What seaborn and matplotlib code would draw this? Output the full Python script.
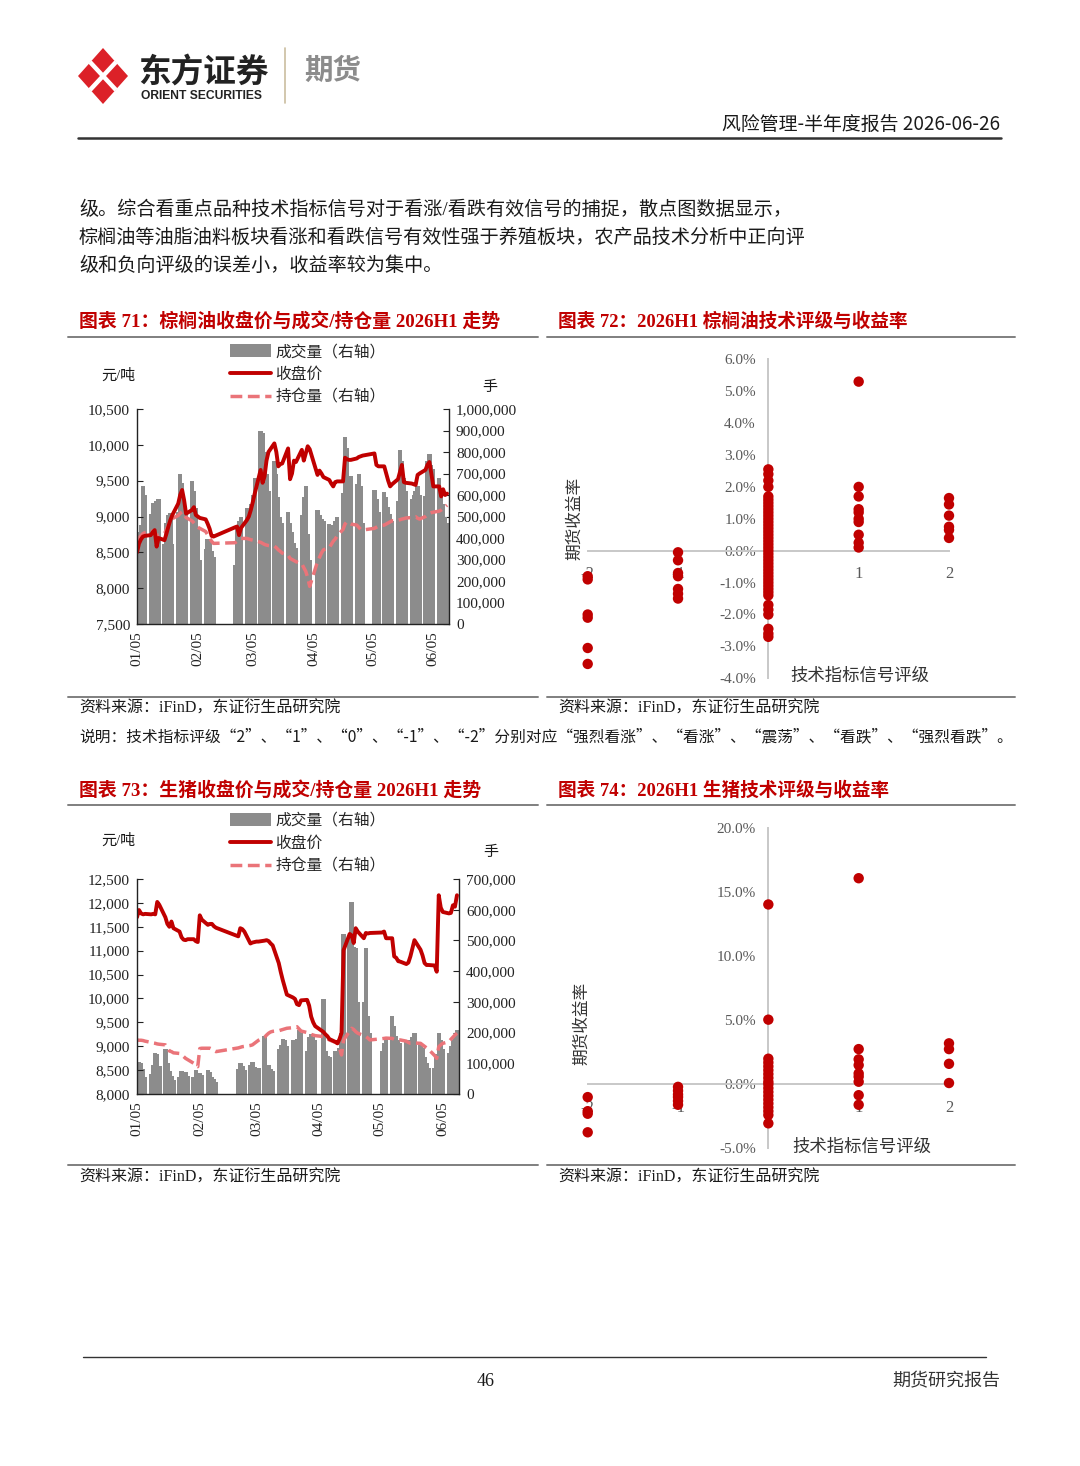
import numpy as np
import pandas as pd
import matplotlib
matplotlib.use('Agg')
import matplotlib.pyplot as plt
import matplotlib.dates as mdates
from matplotlib.ticker import FuncFormatter
from matplotlib.patches import Patch, Polygon
from matplotlib.lines import Line2D
import seaborn as sns

W, H = 1080, 1466
RED = '#c00000'
PINK = '#ea7479'
BAR = '#8c8c8c'
SERIF = ['Liberation Serif', 'Noto Sans CJK SC']
CJK = ['Noto Sans CJK SC', 'DejaVu Sans']

# ── Trading calendar (SHFE/DCE closed on these weekdays) ──────────────────────
HOLIDAYS = ['2026-02-16', '2026-02-17', '2026-02-18', '2026-02-19', '2026-02-20',
            '2026-02-23', '2026-04-06', '2026-05-01', '2026-05-04', '2026-05-05']
DAYS = pd.bdate_range('2026-01-05', '2026-06-12')
DAYS = DAYS[~DAYS.isin(pd.to_datetime(HOLIDAYS))]
TICK_DATES = pd.to_datetime(['2026-01-05', '2026-02-05', '2026-03-05',
                             '2026-04-05', '2026-05-05', '2026-06-05'])

# ── Palm oil (图表 71) ─────────────────────────────────────────────────────────
PALM_CLOSE = [8500, 8620, 8680, 8720, 8730,  8740, 8780, 8810, 8580, 8700,
              8670, 8760, 8860, 8950, 9020,  9180, 9300, 9370, 9230, 9040,
              9090, 9130, 9020, 9000, 8980,  8960, 8900, 8830, 8730, 8720,
              8850, 8860, 8740, 8840,        8950, 9000, 9090, 9200, 9320,
              9650, 9470, 9560, 9780, 9900,  10020, 9900, 9700, 9730, 9740,
              9950, 9520, 9600, 9780, 9760,  9930, 9780, 9880, 9980, 9940,
              9580, 9640, 9600, 9550,        9510, 9460, 9420, 9480, 9490,
              9490, 9820, 9800, 9790, 9790,  9810, 9830, 9840, 9850,
              9880, 9720, 9700,              9700, 9600, 9500, 9420, 9450,
              9520, 9620, 9720, 9480, 9470,  9460, 9450, 9440, 9580, 9600,
              9650, 9720, 9760, 9600, 9420,  9420, 9280, 9380, 9300, 9320]
# volume / open interest in thousand lots
PALM_VOL = [400, 430, 460, 640, 600,  510, 565, 545, 570, 580,
            370, 470, 505, 515, 370,  520, 700, 655, 560, 515,
            665, 620, 540, 450, 300,  350, 395, 380, 340, 310,
            275, 440, 480, 500,       540, 520, 560, 600, 680,
            900, 890, 800, 700, 620,  760, 700, 590, 500, 470,
            520, 470, 430, 375, 355,  505, 590, 640, 420, 300,
            530, 505, 490, 480,       465, 462, 448, 480, 500,
            610, 870, 820, 690, 690,  650, 700, 640, 470,
            625, 580, 520,            615, 590, 545, 510, 480,
            570, 810, 760, 680, 620,  580, 600, 620, 640, 600,
            595, 760, 790, 740, 720,  680, 620, 560, 500, 470]
PALM_OI = [390, 400, 410, 420, 425,  430, 432, 425, 405, 415,
           420, 440, 460, 480, 490,  505, 515, 522, 510, 495,
           480, 470, 460, 450, 445,  430, 415, 400, 385, 375,
           378, 385, 392, 398,       398, 395, 392, 390, 388,
           380, 375, 370, 367, 365,  362, 355, 345, 338, 330,
           320, 305, 300, 295, 290,  280, 262, 245, 215, 175,
           290, 310, 330, 345,       355, 370, 385, 395, 410,
           440, 465, 476, 470, 465,  460, 450, 440, 437,
           445, 450, 455,            460, 465, 470, 475, 480,
           482, 485, 488, 490, 493,  495, 497, 499, 492, 488,
           500, 508, 515, 518, 520,  525, 530, 538, 545, 553]

# ── Live hog (图表 73) ─────────────────────────────────────────────────────────
HOG_CLOSE = [11700, 11850, 11780, 11760, 11770,  11760, 11770, 11760, 12020, 11960,
             11700, 11560, 11500, 11610, 11470,  11400, 11280, 11230, 11220, 11240,
             11240, 11200, 11180, 11740, 11650,  11540, 11560, 11560, 11510, 11480,
             11300, 11470, 11450, 11400,         11150, 11170, 11180, 11190, 11190,
             11210, 11220, 11200, 11150, 11110,  10740, 10550, 10380, 10230, 10080,
             10020, 9990, 9880, 9860, 9960,      9970, 9850, 9620, 9500, 9420,
             9300, 9250, 9210, 9150,             9090, 9060, 9150, 9280, 11010,
             11350, 11320, 11160, 11470, 11400,  11260, 11370, 11360, 11370,
             11380, 11400, 11260,                11260, 10880, 10850, 10780, 10770,
             10720, 10750, 10880, 11050, 11220,  11020, 10900, 10740, 10700, 10700,
             10690, 10560, 12160, 11900, 11810,  11780, 11790, 11950, 11920, 12160]
HOG_VOL = [90, 105, 100, 80, 56,   65, 95, 135, 130, 90,
           145, 100, 75, 60, 45,   55, 75, 68, 73, 60,
           55, 78, 60, 68, 62,     78, 72, 56, 48, 40,
           80, 100, 90, 78,        95, 105, 88, 80, 85,
           190, 85, 95, 80, 75,    145, 160, 180, 175, 155,
           175, 170, 180, 208, 200,  140, 185, 195, 185, 175,
           310, 140, 125, 120,     140, 130, 150, 200, 520,
           500, 625, 480, 475, 300,  300, 475, 255, 200,
           140, 165, 180,          255, 220, 190, 175, 165,
           170, 175, 165, 185, 198,  165, 150, 120, 100, 85,
           85, 130, 200, 175, 145,   135, 155, 175, 190, 210]
HOG_OI = [176, 175, 175, 174, 172,  168, 166, 165, 163, 162,
          160, 150, 140, 138, 134,  132, 128, 122, 116, 112,
          100, 92, 89, 148, 149,    149, 149, 146, 141, 138,
          150, 152, 154, 155,       158, 160, 165, 170, 175,
          185, 192, 198, 202, 204,  206, 208, 210, 212, 214,
          216, 218, 219, 212, 205,  200, 196, 194, 192, 190,
          187, 184, 180, 176,       168, 165, 150, 127, 176,
          205, 214, 210, 203, 198,  190, 187, 182, 176,
          180, 181, 182,            181, 178, 176, 175, 176,
          172, 168, 165, 165, 166,  165, 160, 155, 150, 145,
          125, 116, 154, 160, 165,  170, 178, 185, 192, 198]

# ── Rating vs return scatter (图表 72 / 74), returns in % ─────────────────────
RATINGS = [-2, -1, 0, 1, 2]
PALM_RET = {
    -2: [-0.80, -0.90, -2.00, -2.10, -3.05, -3.55],
    -1: [-0.05, -0.30, -0.70, -0.80, -1.20, -1.35, -1.50],
    0: [2.55, 2.40, 2.20, 2.00, 1.70, 1.60, 1.50, 1.40, 1.30, 1.20, 1.10, 1.00,
        0.90, 0.80, 0.70, 0.60, 0.50, 0.40, 0.30, 0.20, 0.10, 0.00, -0.10, -0.20,
        -0.30, -0.40, -0.50, -0.60, -0.70, -0.80, -0.90, -1.00, -1.10, -1.20,
        -1.30, -1.40, -1.70, -1.85, -2.00, -2.45, -2.60, -2.70],
    1: [5.30, 2.00, 1.70, 1.30, 1.20, 1.00, 0.90, 0.50, 0.25, 0.10],
    2: [1.65, 1.45, 1.10, 0.75, 0.65, 0.40],
}
HOG_RET = {
    -2: [-1.00, -2.10, -2.30, -3.75],
    -1: [-0.20, -0.50, -0.80, -1.00, -1.30, -1.60],
    0: [14.05, 5.05, 2.00, 1.70, 1.40, 1.10, 0.80, 0.50, 0.20, 0.00, -0.30,
        -0.60, -0.90, -1.20, -1.50, -1.80, -2.10, -2.40, -3.05],
    1: [16.10, 2.75, 1.95, 1.50, 0.85, 0.60, 0.20, -0.85, -1.60],
    2: [3.20, 2.75, 1.60, 0.10],
}

sns.set_theme(style='white')
plt.rcParams['font.family'] = SERIF
plt.rcParams['axes.unicode_minus'] = False

fig = plt.figure(figsize=(W / 100, H / 100), dpi=100)
bg = fig.add_axes([0, 0, 1, 1], zorder=0)
bg.set_xlim(0, W)
bg.set_ylim(H, 0)
bg.axis('off')


def px_axes(x0, y0, x1, y1):
    return fig.add_axes([x0 / W, 1 - y1 / H, (x1 - x0) / W, (y1 - y0) / H], zorder=2)


def txt(x, y, s, size=11, color='#1a1a1a', ha='left', family=SERIF, **kw):
    bg.text(x, y, s, fontsize=size, color=color, ha=ha, va='center', family=family, **kw)


# ── Page header / body / footer ───────────────────────────────────────────────
bg.add_patch(Polygon([(103, 48), (128, 76), (103, 104), (78, 76)], closed=True,
                     color='#dc2128', lw=0))
bg.plot([90, 116], [62, 90], color='white', lw=3.2, solid_capstyle='butt')
bg.plot([116, 90], [62, 90], color='white', lw=3.2, solid_capstyle='butt')
txt(138, 72, '东方证券', size=23.5, color='#222222', family=CJK, weight='bold')
txt(141, 96, 'ORIENT SECURITIES', size=8.7, color='#222222',
    family=['Liberation Sans'], weight='bold')
bg.plot([285, 285], [48, 103], color='#cbbd9f', lw=1.2)
txt(304, 71, '期货', size=20.5, color='#8c8c8c', family=CJK, weight='bold')
txt(1000, 124, '风险管理-半年度报告 2026-06-26', size=13.6, ha='right', family=CJK)
bg.plot([78, 1001], [138, 138], color='#333333', lw=1.8)

body = ['级。综合看重点品种技术指标信号对于看涨/看跌有效信号的捕捉，散点图数据显示，',
        '棕榈油等油脂油料板块看涨和看跌信号有效性强于养殖板块，农产品技术分析中正向评',
        '级和负向评级的误差小，收益率较为集中。']
for i, line in enumerate(body):
    txt(79, 210 + 28 * i, line, size=13.75)

for ytitle, yline, ybot, ysrc, titles in [
        (322, 337, 697, 709, ['图表 71：棕榈油收盘价与成交/持仓量 2026H1 走势',
                              '图表 72：2026H1 棕榈油技术评级与收益率']),
        (791, 805, 1165, 1178, ['图表 73：生猪收盘价与成交/持仓量 2026H1 走势',
                                '图表 74：2026H1 生猪技术评级与收益率'])]:
    txt(79, ytitle, titles[0], size=13.6, color=RED, weight='bold')
    txt(558, ytitle, titles[1], size=13.4, color=RED, weight='bold')
    for yy in (yline, ybot):
        bg.plot([68, 538], [yy, yy], color='#7f7f7f', lw=1.4)
        bg.plot([547, 1015], [yy, yy], color='#7f7f7f', lw=1.4)
    txt(79, ysrc, '资料来源：iFinD，东证衍生品研究院', size=11.5)
    txt(558, ysrc, '资料来源：iFinD，东证衍生品研究院', size=11.5)

txt(79, 737, '说明：技术指标评级“2”、“1”、“0”、“-1”、“-2”分别对应“强烈看涨”、'
    '“看涨”、“震荡”、“看跌”、“强烈看跌”。', size=11.3, family=CJK)

bg.plot([83, 986], [1357, 1357], color='#333333', lw=1.0)
txt(486, 1381, '46', size=13, ha='center')
txt(1000, 1381, '期货研究报告', size=13, ha='right', family=CJK, color='#333333')


# ── Combo chart: volume bars + close line + open interest ─────────────────────
def draw_combo(box, close, vol, oi, pticks, vticks, leg_y, unit_y, hand_x):
    df = pd.DataFrame({'date': DAYS, 'close': close, 'vol': vol, 'oi': oi})
    ax = px_axes(*box)
    ax2 = ax.twinx()
    ax2.bar(df['date'], df['vol'], width=2.2, color=BAR, linewidth=0)
    sns.lineplot(data=df, x='date', y='oi', ax=ax2, color=PINK, linewidth=2.5,
                 linestyle=(0, (3.4, 1.6)))
    sns.lineplot(data=df, x='date', y='close', ax=ax, color=RED, linewidth=2.8)
    ax.set_zorder(ax2.get_zorder() + 1)
    ax.patch.set_visible(False)

    ax.set_xlim(pd.Timestamp('2026-01-05'), pd.Timestamp('2026-06-13'))
    ax.set_ylim(pticks[0], pticks[-1])
    ax.set_yticks(pticks)
    ax.yaxis.set_major_formatter(FuncFormatter(lambda v, _: f'{v:,.0f}'))
    ax2.set_ylim(vticks[0], vticks[-1])
    ax2.set_yticks(vticks)
    ax2.yaxis.set_major_formatter(FuncFormatter(lambda v, _: f'{v * 1000:,.0f}'))
    ax.set_xticks(TICK_DATES)
    ax.xaxis.set_major_formatter(mdates.DateFormatter('%m/%d'))
    for a in (ax, ax2):
        a.set_xlabel('')
        a.set_ylabel('')
        a.grid(False)
    ax.tick_params(axis='x', direction='in', length=4, width=0.8, pad=5,
                   labelsize=11, labelrotation=90, colors='#222222')
    ax.tick_params(axis='y', direction='in', length=4, width=0.8, pad=5,
                   labelsize=11, colors='#222222')
    ax2.tick_params(axis='y', direction='in', length=4, width=0.8, pad=5,
                    labelsize=11, colors='#222222')
    for s in ('top', 'right'):
        ax.spines[s].set_visible(False)
    for s in ('top', 'left', 'bottom'):
        ax2.spines[s].set_visible(False)
    for sp in (ax.spines['left'], ax.spines['bottom'], ax2.spines['right']):
        sp.set_color('#222222')
        sp.set_linewidth(1.0)

    handles = [Patch(color=BAR, lw=0),
               Line2D([], [], color=RED, lw=2.8),
               Line2D([], [], color=PINK, lw=2.5, ls=(0, (3.4, 1.6)))]
    labels = ['成交量（右轴）', '收盘价', '持仓量（右轴）']
    fig.legend(handles, labels, loc='upper left', frameon=False,
               bbox_to_anchor=(230 / W, 1 - leg_y / H),
               handlelength=2.6, handleheight=0.85, handletextpad=0.3,
               labelspacing=0.38, borderpad=0, borderaxespad=0,
               prop={'family': CJK, 'size': 11.3})
    txt(118, unit_y, '元/吨', size=10.8, ha='center')
    txt(hand_x, unit_y + 11, '手', size=10.8, ha='center')


draw_combo((137, 409, 449, 624), PALM_CLOSE, PALM_VOL, PALM_OI,
           list(range(7500, 10501, 500)), list(range(0, 1001, 100)),
           343, 376, 490)
draw_combo((137, 879, 459, 1094), HOG_CLOSE, HOG_VOL, HOG_OI,
           list(range(8000, 12501, 500)), list(range(0, 701, 100)),
           812, 841, 491)


# ── Scatter: rating vs futures return ─────────────────────────────────────────
def draw_scatter(box, rets, yticks, ylab_xy, xlab_xy):
    df = pd.DataFrame([(r, v) for r in RATINGS for v in rets[r]],
                      columns=['rating', 'ret'])
    ax = px_axes(*box)
    sns.scatterplot(data=df, x='rating', y='ret', ax=ax, color=RED, s=56,
                    edgecolor='none', linewidth=0, clip_on=False, zorder=3)
    ax.set_xlim(-2, 2)
    ax.set_ylim(yticks[0], yticks[-1])
    ax.patch.set_visible(False)
    for s in ('top', 'right'):
        ax.spines[s].set_visible(False)
    for s in ('left', 'bottom'):
        ax.spines[s].set_position(('data', 0))
        ax.spines[s].set_color('#c8c8c8')
        ax.spines[s].set_linewidth(1.4)
    ax.set_xticks(RATINGS)
    ax.set_yticks(yticks)
    ax.yaxis.set_major_formatter(FuncFormatter(lambda v, _: f'{v:.1f}%'))
    ax.tick_params(axis='both', length=0, colors='#595959')
    ax.tick_params(axis='y', labelsize=11, pad=9)
    ax.tick_params(axis='x', labelsize=12, pad=11)
    ax.set_xlabel('')
    ax.set_ylabel('')
    ax.grid(False)
    txt(*ylab_xy, '期货收益率', size=12, ha='center', rotation=90, color='#333333')
    txt(*xlab_xy, '技术指标信号评级', size=12.5, ha='center', color='#333333')


draw_scatter((587.7, 359.3, 949, 678.3), PALM_RET, [-4, -3, -2, -1, 0, 1, 2, 3, 4, 5, 6],
             (575, 518), (860, 677))
draw_scatter((587.7, 828.3, 949, 1148.3), HOG_RET, [-5, 0, 5, 10, 15, 20],
             (582, 1023), (862, 1148))

fig.savefig('out.png', dpi=100)
